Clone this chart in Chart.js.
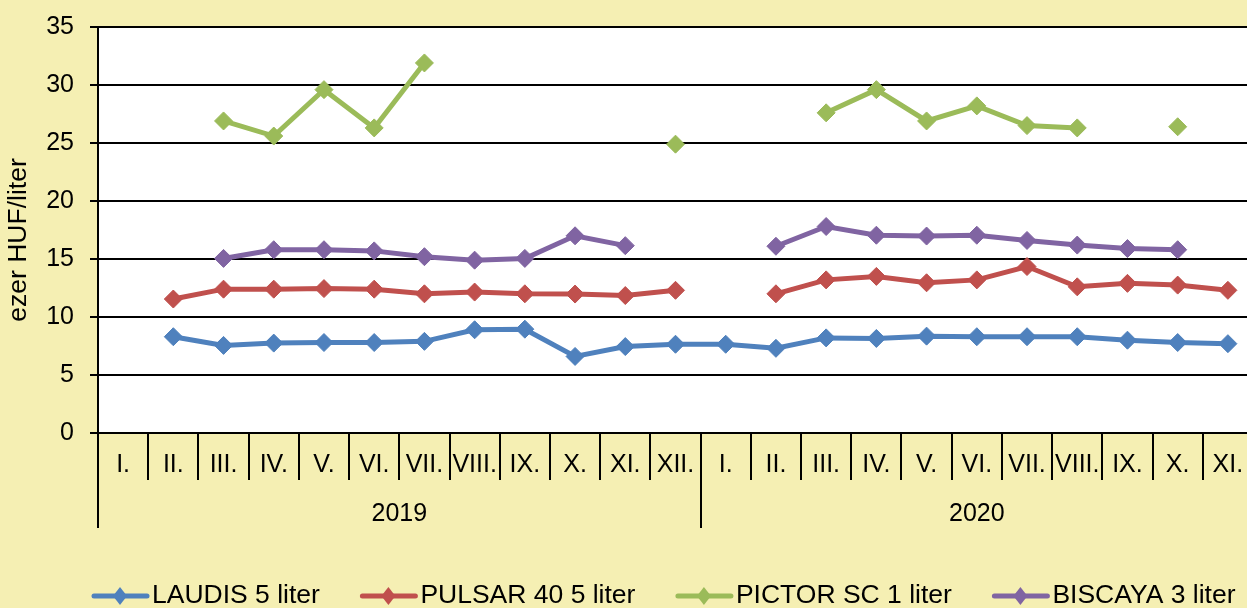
<!DOCTYPE html>
<html>
<head>
<meta charset="utf-8">
<script src="https://cdn.jsdelivr.net/npm/chart.js@4.4.0/dist/chart.umd.min.js"></script>
<style>
  html, body { margin: 0; padding: 0; background: #f5efb3; overflow: hidden; }
  #wrap { width: 1263px; height: 608px; }
</style>
</head>
<body>
<div id="wrap"><canvas id="arChart" width="1263" height="608"></canvas></div>
<script>
const honapok2019 = ['I.', 'II.', 'III.', 'IV.', 'V.', 'VI.', 'VII.', 'VIII.', 'IX.', 'X.', 'XI.', 'XII.'];
const honapok2020 = ['I.', 'II.', 'III.', 'IV.', 'V.', 'VI.', 'VII.', 'VIII.', 'IX.', 'X.', 'XI.'];
const evek = ['2019', '2020'];
const yCim = 'ezer HUF/liter';

const laudis  = [null, 8.3, 7.55, 7.75, 7.8, 7.8, 7.9, 8.9, 8.95, 6.6, 7.45, 7.65,
                 7.65, 7.3, 8.2, 8.15, 8.35, 8.3, 8.3, 8.3, 8.0, 7.8, 7.7];
const pulsar  = [null, 11.55, 12.4, 12.4, 12.45, 12.4, 12.0, 12.15, 12.0, 11.98, 11.85, 12.3,
                 null, 12.0, 13.2, 13.5, 12.95, 13.2, 14.35, 12.6, 12.9, 12.75, 12.3];
const pictor  = [null, null, 26.9, 25.6, 29.6, 26.3, 31.9, null, null, null, null, 24.9,
                 null, null, 27.6, 29.6, 26.9, 28.2, 26.5, 26.3, null, 26.4, null];
const biscaya = [null, null, 15.05, 15.8, 15.8, 15.7, 15.2, 14.9, 15.05, 17.0, 16.15, null,
                 null, 16.1, 17.8, 17.05, 16.98, 17.05, 16.6, 16.2, 15.9, 15.8, null];

const FONT = "'Liberation Sans', Arial, sans-serif";
const labels = [...honapok2019, ...honapok2020];
const evHonapok = [honapok2019.length, honapok2020.length];

function sorozat(label, data, color) {
  return {
    label, data,
    borderColor: color, backgroundColor: color,
    borderWidth: 5,
    pointStyle: 'rectRot', pointRadius: 9, pointHoverRadius: 9,
    pointBorderWidth: 1, pointBackgroundColor: color, pointBorderColor: color,
    spanGaps: false, tension: 0
  };
}

// feher rajzterulet
const hatter = {
  id: 'hatter',
  beforeDraw(chart) {
    const { ctx, chartArea: a } = chart;
    ctx.save();
    ctx.fillStyle = '#ffffff';
    ctx.fillRect(a.left, a.top, a.right - a.left, a.bottom - a.top);
    ctx.restore();
  }
};

// honap / ev elvalasztok, ev feliratok, y tengely cime
const kategoriak = {
  id: 'kategoriak',
  afterDraw(chart) {
    const { ctx, chartArea: a } = chart;
    const xs = chart.scales.x;
    const fel = (xs.getPixelForValue(1) - xs.getPixelForValue(0)) / 2;
    const evKezdet = [0];
    evHonapok.forEach((n, i) => evKezdet.push(evKezdet[i] + n));
    ctx.save();
    ctx.strokeStyle = '#000';
    ctx.lineWidth = 2;
    for (let i = 0; i <= labels.length; i++) {
      const x = Math.round(xs.getPixelForValue(Math.min(i, labels.length - 1)) + (i < labels.length ? -fel : fel));
      const hosszu = evKezdet.includes(i);
      ctx.beginPath();
      ctx.moveTo(x, a.bottom);
      ctx.lineTo(x, hosszu ? 528 : 480);
      ctx.stroke();
    }
    ctx.fillStyle = '#000';
    ctx.font = '25px ' + FONT;
    ctx.textAlign = 'center';
    ctx.textBaseline = 'middle';
    evek.forEach((ev, i) => {
      const x0 = xs.getPixelForValue(evKezdet[i]) - fel;
      const x1 = xs.getPixelForValue(evKezdet[i + 1] - 1) + fel;
      ctx.fillText(ev, (x0 + x1) / 2, 514);
    });
    ctx.translate(19, 240);
    ctx.rotate(-Math.PI / 2);
    ctx.font = '26.5px ' + FONT;
    ctx.fillText(yCim, 0, 0);
    ctx.restore();
  }
};

// jelmagyarazat
const jelmagyarazat = {
  id: 'jelmagyarazat',
  afterDraw(chart) {
    const ctx = chart.ctx;
    const y = 596;
    let x = 92;
    ctx.save();
    ctx.font = '26.5px ' + FONT;
    ctx.textBaseline = 'middle';
    chart.data.datasets.forEach(ds => {
      ctx.strokeStyle = ds.borderColor;
      ctx.lineWidth = 5;
      ctx.lineCap = 'round';
      ctx.beginPath();
      ctx.moveTo(x + 2, y);
      ctx.lineTo(x + 55, y);
      ctx.stroke();
      const cx = x + 28;
      ctx.fillStyle = ds.borderColor;
      ctx.beginPath();
      ctx.moveTo(cx, y - 9);
      ctx.lineTo(cx + 7, y);
      ctx.lineTo(cx, y + 9);
      ctx.lineTo(cx - 7, y);
      ctx.closePath();
      ctx.fill();
      ctx.fillStyle = '#000';
      ctx.fillText(ds.label, x + 60, y);
      x += 60 + ctx.measureText(ds.label).width + 40.5;
    });
    ctx.restore();
  }
};

new Chart(document.getElementById('arChart').getContext('2d'), {
  type: 'line',
  data: {
    labels: labels,
    datasets: [
      sorozat('LAUDIS 5 liter', laudis, '#4f81bd'),
      sorozat('PULSAR 40 5 liter', pulsar, '#c0504d'),
      sorozat('PICTOR SC 1 liter', pictor, '#9bbb59'),
      sorozat('BISCAYA 3 liter', biscaya, '#8064a2')
    ]
  },
  options: {
    responsive: false,
    animation: false,
    devicePixelRatio: 1,
    layout: { padding: { left: 0, top: 27, right: 1, bottom: 75 } },
    plugins: {
      legend: { display: false },
      tooltip: { enabled: false }
    },
    scales: {
      x: {
        type: 'category',
        offset: true,
        grid: { display: false, drawTicks: false, tickLength: 0 },
        border: { color: '#000', width: 2 },
        ticks: { color: '#000', font: { size: 25, family: FONT }, padding: 17, autoSkip: false, maxRotation: 0, minRotation: 0 },
        afterFit(s) { s.height = 100; s.paddingLeft = 0; s.paddingRight = 0; }
      },
      y: {
        min: 0, max: 35,
        ticks: { stepSize: 5, color: '#000', font: { size: 25, family: FONT }, padding: 16 },
        grid: { color: '#000', lineWidth: 2, tickLength: 8 },
        border: { color: '#000', width: 2 },
        afterFit(s) { s.width = 98; s.paddingTop = 0; s.paddingBottom = 0; }
      }
    }
  },
  plugins: [hatter, kategoriak, jelmagyarazat]
});
</script>
</body>
</html>
